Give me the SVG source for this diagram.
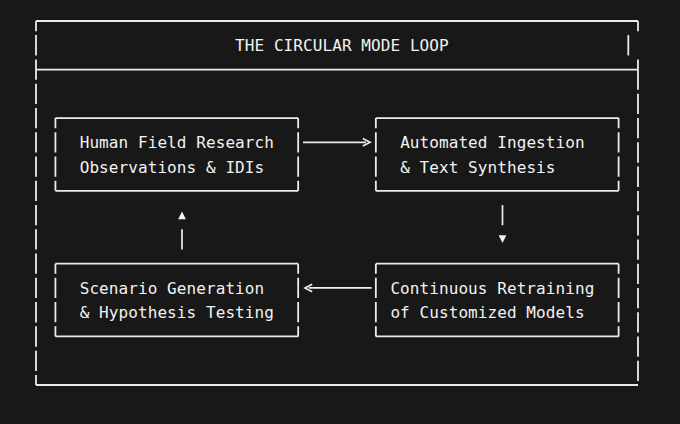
<svg xmlns="http://www.w3.org/2000/svg" width="680" height="424" viewBox="0 0 680 424">
<defs>
<style>
.h{stroke:#ececec;stroke-width:1.8;fill:none}
.v{stroke:#ececec;stroke-width:1.8;fill:none;stroke-dasharray:20.3 3.97;stroke-dashoffset:10.15}
.c{stroke:#ececec;stroke-width:1.7;fill:none}
.t{font-family:"DejaVu Sans Mono","Liberation Mono",monospace;font-size:16px;fill:#f2f2f2;letter-spacing:0.08px}
.a{fill:#f2f2f2}
</style>
</defs>
<rect width="680" height="424" fill="#181818"/>
<g id="frame">
<line class="h" x1="36" y1="21" x2="638" y2="21"/>
<line class="h" x1="36" y1="69.53" x2="638" y2="69.53"/>
<line class="h" x1="36" y1="385" x2="638" y2="385"/>
<line class="v" x1="36" y1="21" x2="36" y2="385"/>
<line class="h" x1="638" y1="21" x2="638" y2="31.15"/>
<line class="h" x1="628.3" y1="35.12" x2="628.3" y2="55.42"/>
<line class="v" x1="638" y1="69.53" x2="638" y2="385" style="stroke-dashoffset:0"/>
<line class="h" x1="638" y1="59.38" x2="638" y2="69.53"/>
<text class="t" x="235.06" y="51.3">THE CIRCULAR MODE LOOP</text>
</g>
<g id="node-field-research">
<line class="h" x1="55.42" y1="118.07" x2="298.17" y2="118.07"/>
<line class="h" x1="55.42" y1="190.87" x2="298.17" y2="190.87"/>
<line class="v" x1="55.42" y1="118.07" x2="55.42" y2="190.87"/>
<line class="v" x1="298.17" y1="118.07" x2="298.17" y2="190.87"/>
<text class="t" x="79.7" y="148.3">Human Field Research</text>
<text class="t" x="79.7" y="172.6">Observations &amp; IDIs</text>
</g>
<g id="node-ingestion">
<line class="h" x1="375.85" y1="118.07" x2="618.6" y2="118.07"/>
<line class="h" x1="375.85" y1="190.87" x2="618.6" y2="190.87"/>
<line class="v" x1="375.85" y1="118.07" x2="375.85" y2="190.87"/>
<line class="v" x1="618.6" y1="118.07" x2="618.6" y2="190.87"/>
<text class="t" x="400.13" y="148.3">Automated Ingestion</text>
<text class="t" x="400.13" y="172.6">&amp; Text Synthesis</text>
</g>
<g id="node-retraining">
<line class="h" x1="375.85" y1="263.67" x2="618.6" y2="263.67"/>
<line class="h" x1="375.85" y1="336.47" x2="618.6" y2="336.47"/>
<line class="v" x1="375.85" y1="263.67" x2="375.85" y2="336.47"/>
<line class="v" x1="618.6" y1="263.67" x2="618.6" y2="336.47"/>
<text class="t" x="390.4" y="293.9">Continuous Retraining</text>
<text class="t" x="390.4" y="318.2">of Customized Models</text>
</g>
<g id="node-scenario">
<line class="h" x1="55.42" y1="263.67" x2="298.17" y2="263.67"/>
<line class="h" x1="55.42" y1="336.47" x2="298.17" y2="336.47"/>
<line class="v" x1="55.42" y1="263.67" x2="55.42" y2="336.47"/>
<line class="v" x1="298.17" y1="263.67" x2="298.17" y2="336.47"/>
<text class="t" x="79.7" y="293.9">Scenario Generation</text>
<text class="t" x="79.7" y="318.2">&amp; Hypothesis Testing</text>
</g>
<g id="connectors">
<line class="c" x1="303" y1="142.33" x2="366" y2="142.33"/>
<polyline class="c" points="362.8,138.6 370,142.33 362.8,146.1"/>
<line class="c" x1="502.5" y1="205" x2="502.5" y2="225.3"/>
<polygon class="a" points="498.6,235.2 506.4,235.2 502.5,243"/>
<line class="c" x1="309" y1="287.93" x2="371.7" y2="287.93"/>
<polyline class="c" points="312.2,284.2 305,287.93 312.2,291.7"/>
<line class="c" x1="182" y1="229.3" x2="182" y2="249.5"/>
<polygon class="a" points="178.1,219.2 185.9,219.2 182,211.4"/>
</g>
</svg>
